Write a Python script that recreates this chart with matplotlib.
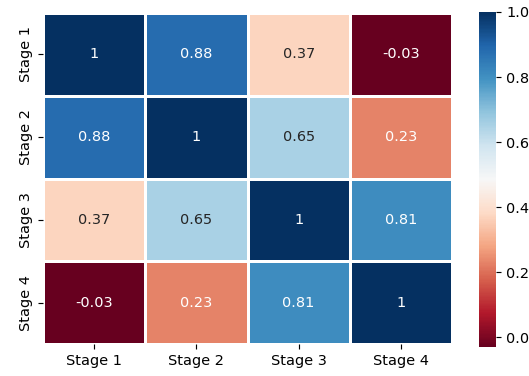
import numpy as np
import matplotlib
matplotlib.use("Agg")
import matplotlib.pyplot as plt
import seaborn as sns

# correlation between stages
stages = ["Stage 1", "Stage 2", "Stage 3", "Stage 4"]
corr = np.array([
    [1.00, 0.88, 0.37, -0.03],
    [0.88, 1.00, 0.65, 0.23],
    [0.37, 0.65, 1.00, 0.81],
    [-0.03, 0.23, 0.81, 1.00],
])

DPI = 104
W, H = 529.0, 376.0
fig = plt.figure(figsize=(W / DPI, H / DPI), dpi=DPI)
ax = fig.add_axes([43 / W, 1 - 344 / H, (452 - 43) / W, (344 - 13) / H])
cax = fig.add_axes([479 / W, 1 - 347 / H, (496 - 479) / W, (347 - 12) / H])

sns.heatmap(corr, annot=True, cmap="RdBu", linewidths=1.0, linecolor="white",
            xticklabels=stages, yticklabels=stages, ax=ax, cbar_ax=cax)
cax.tick_params(length=3.5)
plt.setp(ax.get_yticklabels(), rotation=90, va="center")

fig.savefig("out.png", dpi=DPI)
